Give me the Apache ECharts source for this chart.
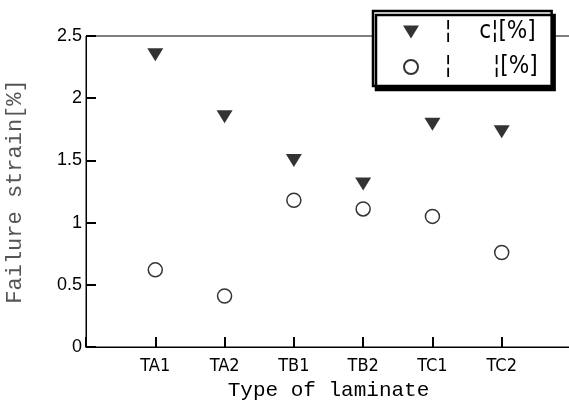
<!DOCTYPE html>
<html>
<head>
<meta charset="utf-8">
<script src="https://cdn.jsdelivr.net/npm/echarts@6/dist/echarts.min.js"></script>
<style>
    html, body { margin: 0; padding: 0; background: #fff; }
    #main { width: 569px; height: 410px; }
</style>
</head>
<body>
<div id="main"></div>
<script>
    // laminate types (blank slots at both ends keep the spacing of the original)
    var categories = ['TA1', 'TA2', 'TB1', 'TB2', 'TC1', 'TC2'];
    var xSlots = [''].concat(categories).concat([' ']);
    var yTicks = [0, 0.5, 1, 1.5, 2, 2.5];

    var nameTri = '   ¦    c¦[%]';
    var nameCircle = '   ¦      ¦[%]';
    var triValues = [2.35, 1.85, 1.50, 1.31, 1.79, 1.73];
    var circleValues = [0.62, 0.41, 1.18, 1.11, 1.05, 0.76];

    var triPath = 'path://M0,0 L16,0 L8,13 Z';
    var narrow = '"DejaVu Sans Condensed", "Liberation Sans Narrow", "Liberation Sans", sans-serif';
    var mono = '"Liberation Mono", "DejaVu Sans Mono", monospace';

    function pairs(vals) {
        return categories.map(function (c, i) { return [c, vals[i]]; });
    }

    var chart = echarts.init(document.getElementById('main'));
    var option = {
        animation: false,
        grid: {
            left: 86,
            right: -2,
            top: 36,
            bottom: 63,
            outerBoundsMode: 'none',
            show: true,
            borderColor: '#000',
            borderWidth: 1,
            backgroundColor: 'transparent'
        },
        legend: {
            orient: 'vertical',
            left: 373,
            top: 11,
            padding: [9, 14, 7, 30],
            itemGap: 11,
            itemWidth: 16,
            itemHeight: 14,
            backgroundColor: '#fff',
            borderColor: '#000',
            borderWidth: 2.5,
            borderRadius: 0,
            shadowColor: '#000',
            shadowBlur: 0,
            shadowOffsetX: 3,
            shadowOffsetY: 4,
            textStyle: {
                color: '#000',
                fontSize: 24,
                fontFamily: narrow
            },
            data: [
                { name: nameTri, icon: triPath },
                { name: nameCircle, icon: 'circle' }
            ]
        },
        xAxis: {
            type: 'category',
            data: xSlots,
            boundaryGap: false,
            name: 'Type of laminate',
            nameLocation: 'middle',
            nameGap: 33,
            nameTextStyle: { color: '#000', fontSize: 21, fontFamily: mono },
            axisLine: { show: true, lineStyle: { color: '#000' } },
            axisTick: {
                show: true,
                inside: true,
                interval: 0,
                length: 10,
                lineStyle: { color: '#000', width: 2 }
            },
            axisLabel: {
                interval: 0,
                margin: 10,
                color: '#000',
                fontSize: 18,
                fontFamily: narrow
            }
        },
        yAxis: {
            type: 'value',
            min: yTicks[0],
            max: yTicks[yTicks.length - 1],
            interval: yTicks[1] - yTicks[0],
            name: 'Failure strain[%]',
            nameLocation: 'middle',
            nameGap: 60,
            nameTextStyle: { color: '#555', fontSize: 22, fontFamily: mono },
            axisLine: { show: true, lineStyle: { color: '#000' } },
            axisTick: {
                show: true,
                inside: true,
                length: 10,
                lineStyle: { color: '#000', width: 2 }
            },
            axisLabel: {
                margin: 4,
                color: '#000',
                fontSize: 18,
                fontFamily: '"Liberation Sans", sans-serif',
                padding: [10, 0, 0, 0]
            },
            splitLine: { show: false }
        },
        series: [{
            name: nameTri,
            type: 'scatter',
            symbol: triPath,
            symbolSize: [16, 13],
            itemStyle: { color: '#000' },
            data: pairs(triValues)
        }, {
            name: nameCircle,
            type: 'scatter',
            symbol: 'circle',
            symbolSize: 14,
            itemStyle: { color: '#fff', borderColor: '#000', borderWidth: 1.5 },
            data: pairs(circleValues)
        }]
    };
    chart.setOption(option);
</script>
</body>
</html>
